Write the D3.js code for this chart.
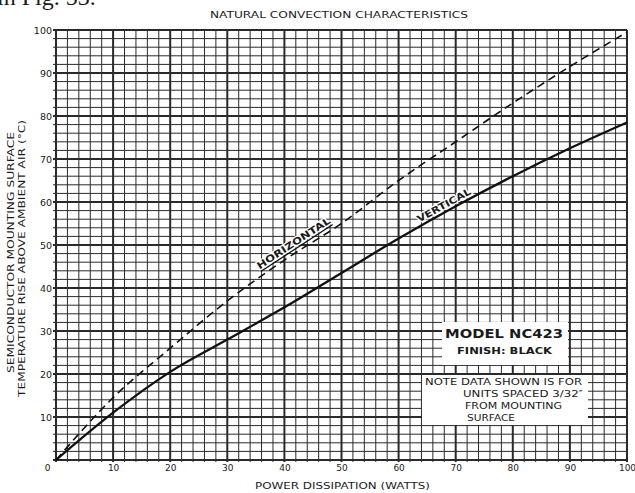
<!DOCTYPE html>
<html>
<head>
<meta charset="utf-8">
<script src="https://cdn.jsdelivr.net/npm/d3@7"></script>
<style>
  html, body { margin: 0; padding: 0; background: #fff; }
  svg { display: block; }
  text { font-family: 'DejaVu Sans', sans-serif; fill: #1a1a1a; }
</style>
</head>
<body>
<div id="chart"></div>
<script>
// values
const powerWatts = [0, 10, 20, 30, 40, 50, 60, 70, 80, 90, 100];
const riseVertical = [0, 11, 20.5, 28, 35.5, 43.5, 51.5, 59, 66, 72.5, 78.5];
const riseHorizontal = [0, 14.5, 26, 37, 46.5, 55, 65, 74, 83, 91.5, 99.5];

const xTicks = [0, 10, 20, 30, 40, 50, 60, 70, 80, 90, 100];
const yTicks = [10, 20, 30, 40, 50, 60, 70, 80, 90, 100];

const titleText = 'NATURAL CONVECTION CHARACTERISTICS';
const xLabel = 'POWER DISSIPATION (WATTS)';
const yLabels = ['SEMICONDUCTOR MOUNTING SURFACE', 'TEMPERATURE RISE ABOVE AMBIENT AIR (°C)'];
const modelLines = ['MODEL NC423', 'FINISH: BLACK'];
const noteLines = ['NOTE DATA SHOWN IS FOR', 'UNITS SPACED 3/32\u2033', 'FROM MOUNTING', 'SURFACE'];

const width = 635;
const height = 493;

const svg = d3.select('#chart')
  .append('svg')
  .attr('width', width)
  .attr('height', height);

const x = d3.scaleLinear().domain([0, 100]).range([56, 627]);
const y = d3.scaleLinear().domain([0, 100]).range([460, 30]);

// partial caption of the page, cut off at the top like the scan
svg.append('text')
  .attr('x', -3)
  .attr('y', 5)
  .style('font-family', "'Liberation Serif', serif")
  .style('font-size', '24px')
  .text('in Fig. 53.');

// grid: minor every 2, major every 10
const grid = svg.append('g').attr('class', 'grid');
const minor = d3.range(0, 101, 2);

grid.selectAll('line.vx')
  .data(minor)
  .enter()
  .append('line')
  .attr('x1', d => x(d))
  .attr('x2', d => x(d))
  .attr('y1', y(100))
  .attr('y2', y(0) + 2)
  .attr('stroke', '#2a2a2a')
  .attr('stroke-width', d => d % 10 === 0 ? 2 : 1);

grid.selectAll('line.hy')
  .data(minor)
  .enter()
  .append('line')
  .attr('x1', x(0) - 3)
  .attr('x2', x(100))
  .attr('y1', d => y(d))
  .attr('y2', d => y(d))
  .attr('stroke', '#2a2a2a')
  .attr('stroke-width', d => d % 10 === 0 ? 2 : 1);

// white label boxes on top of grid
svg.append('rect')
  .attr('x', 442).attr('y', 322)
  .attr('width', 126).attr('height', 43)
  .attr('fill', '#fff');

svg.append('rect')
  .attr('x', 422).attr('y', 375)
  .attr('width', 166).attr('height', 50)
  .attr('fill', '#fff');

// curves
const line = d3.line()
  .x(d => x(d[0]))
  .y(d => y(d[1]))
  .curve(d3.curveMonotoneX);

const vertPts = powerWatts.map((p, i) => [p, riseVertical[i]]);
const horizPts = powerWatts.map((p, i) => [p, riseHorizontal[i]]);

svg.append('path')
  .attr('d', line(horizPts))
  .attr('fill', 'none')
  .attr('stroke', '#111')
  .attr('stroke-width', 1.6)
  .attr('stroke-dasharray', '8,5');

svg.append('path')
  .attr('d', line(vertPts))
  .attr('fill', 'none')
  .attr('stroke', '#111')
  .attr('stroke-width', 2.3);

// curve labels placed along their curves
function curveLabel(pts, at, text, lift, len, underline) {
  const interp = d3.scaleLinear().domain(powerWatts).range(pts.map(d => d[1]));
  const x0 = x(at - 4), y0 = y(interp(at - 4));
  const x1 = x(at + 4), y1 = y(interp(at + 4));
  const ang = Math.atan2(y1 - y0, x1 - x0) * 180 / Math.PI;
  const cx = x(at), cy = y(interp(at));
  const g = svg.append('g')
    .attr('transform', `translate(${cx},${cy}) rotate(${ang}) translate(0,${-lift})`);
  g.append('text')
    .attr('text-anchor', 'middle')
    .attr('textLength', len)
    .attr('lengthAdjust', 'spacingAndGlyphs')
    .style('font-size', '9.5px')
    .style('font-weight', 'bold')
    .style('stroke', '#fff')
    .style('stroke-width', 2.5)
    .style('paint-order', 'stroke')
    .text(text);
  if (underline) {
    g.append('line')
      .attr('x1', -len / 2).attr('x2', len / 2)
      .attr('y1', 2.5).attr('y2', 2.5)
      .attr('stroke', '#111')
      .attr('stroke-width', 1.3);
  }
}

curveLabel(horizPts, 42.5, 'HORIZONTAL', 6, 86, true);
curveLabel(vertPts, 68.5, 'VERTICAL', 3.5, 60, false);

// axes
const xAxis = svg.append('g')
  .attr('transform', `translate(0,${y(0)})`)
  .call(d3.axisBottom(x).tickValues(xTicks).tickSize(0).tickPadding(5));
xAxis.select('.domain').remove();
xAxis.selectAll('text')
  .style('font-family', "'DejaVu Sans', sans-serif")
  .style('font-size', '9px')
  .attr('fill', '#1a1a1a')
  .attr('dx', d => d === 0 ? -9 : 0);

const yAxis = svg.append('g')
  .attr('transform', `translate(${x(0)},0)`)
  .call(d3.axisLeft(y).tickValues(yTicks).tickSize(0).tickPadding(4));
yAxis.select('.domain').remove();
yAxis.selectAll('text')
  .style('font-family', "'DejaVu Sans', sans-serif")
  .style('font-size', '9.5px')
  .attr('fill', '#1a1a1a');

// title and axis titles
svg.append('text')
  .attr('x', 210).attr('y', 18)
  .attr('textLength', 258)
  .attr('lengthAdjust', 'spacingAndGlyphs')
  .style('font-size', '9px')
  .text(titleText);

svg.append('text')
  .attr('x', 255).attr('y', 489)
  .attr('textLength', 175)
  .attr('lengthAdjust', 'spacingAndGlyphs')
  .style('font-size', '9px')
  .text(xLabel);

svg.append('text')
  .attr('transform', 'translate(14,373) rotate(-90)')
  .attr('textLength', 241)
  .attr('lengthAdjust', 'spacingAndGlyphs')
  .style('font-size', '9px')
  .text(yLabels[0]);

svg.append('text')
  .attr('transform', 'translate(25,397) rotate(-90)')
  .attr('textLength', 277)
  .attr('lengthAdjust', 'spacingAndGlyphs')
  .style('font-size', '9px')
  .text(yLabels[1]);

// model box
svg.append('text')
  .attr('x', 445).attr('y', 338)
  .attr('textLength', 118)
  .attr('lengthAdjust', 'spacingAndGlyphs')
  .style('font-size', '13px')
  .style('font-weight', 'bold')
  .text(modelLines[0]);

svg.append('text')
  .attr('x', 457).attr('y', 354)
  .attr('textLength', 95)
  .attr('lengthAdjust', 'spacingAndGlyphs')
  .style('font-size', '9.5px')
  .style('font-weight', 'bold')
  .text(modelLines[1]);

// note box
const noteX = [425, 463, 465, 467];
const noteY = [385, 397, 409, 421];
const noteW = [157, 120, 97, 48];
noteLines.forEach((t, i) => {
  svg.append('text')
    .attr('x', noteX[i]).attr('y', noteY[i])
    .attr('textLength', noteW[i])
    .attr('lengthAdjust', 'spacingAndGlyphs')
    .style('font-size', '8.5px')
    .text(t);
});
</script>
</body>
</html>
